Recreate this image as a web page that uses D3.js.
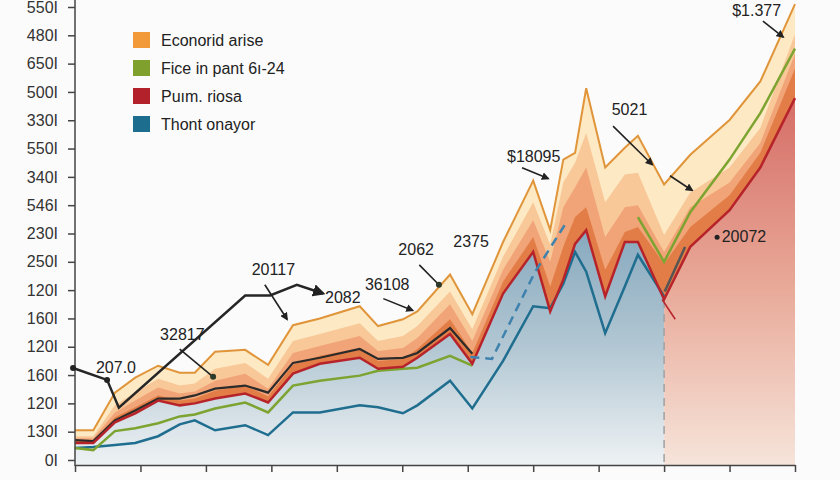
<!DOCTYPE html>
<html>
<head>
<meta charset="utf-8">
<script src="https://cdn.jsdelivr.net/npm/d3@7"></script>
<style>
  body { margin: 0; background: #fbfbfb; }
  text { font-family: "Liberation Sans", Arial, sans-serif; }
</style>
</head>
<body>
<div id="chart"></div>
<script>

// x positions of vertices (axis units, 10 per tick)
var xs = [0, 2.8, 6.1, 9.2, 12.7, 16, 18.3, 21.4, 26, 29.5, 33.3, 37.4, 43.5, 46.3, 50.1, 52.3, 57.3, 60.7, 65.4, 70, 72.6, 74.6, 76.4, 78.1, 81, 84, 86, 90, 94, 100, 104.7, 110];

// stacked band boundaries, bottom to top
var redLine  = [60, 60, 133, 165, 210, 193, 200, 217, 235, 203, 305, 340, 361, 322, 329, 361, 445, 340, 588, 735, 525, 637, 763, 812, 578, 770, 770, 567, 753, 882, 1033, 1278];
var band1Top = [70, 70, 151, 186, 228, 210, 217, 245, 263, 224, 336, 368, 396, 350, 357, 392, 497, 378, 630, 788, 613, 753, 858, 893, 672, 805, 823, 693, 823, 935, 1085, 1383];
var band2Top = [77, 77, 168, 210, 256, 235, 242, 280, 305, 252, 378, 403, 438, 385, 396, 431, 550, 420, 672, 847, 700, 893, 963, 1033, 788, 893, 900, 735, 893, 980, 1120, 1435];
var band3Top = [84, 84, 193, 238, 287, 263, 270, 322, 343, 287, 420, 445, 483, 420, 438, 473, 595, 462, 718, 910, 760, 980, 1050, 1155, 910, 1008, 1015, 795, 945, 1033, 1173, 1505];
var topLine  = [105, 105, 238, 291, 333, 308, 308, 382, 389, 336, 476, 500, 543, 473, 497, 525, 655, 515, 770, 987, 812, 1061, 1085, 1313, 1033, 1103, 1145, 973, 1078, 1201, 1337, 1610];

var blueLine  = [42, 46, 53, 60, 84, 126, 140, 105, 123, 88, 168, 168, 193, 186, 165, 193, 280, 182, 350, 543, 536, 623, 735, 665, 448, 613, 725, 578, null, null, null, null];
var greenLine = [42, 35, 102, 112, 130, 154, 161, 182, 203, 168, 263, 280, 298, 315, 322, 326, 368, 333, null, null, null, null, null, null, null, null, 858, 700, 875, 1061, 1225, 1453];
var blackLine = [70, 67, 140, 175, 217, 217, 228, 252, 263, 238, 343, 361, 392, 357, 361, 378, 466, 375, null, null, null, null, null, null, null, null, null, null, null, null, null, null];

var yTickLabels = ["0I", "130I", "120I", "160I", "120I", "160I", "120I", "250I", "230I", "546I", "340I", "550I", "330I", "500I", "650I", "480I", "550I"];

var legendNames = ["Econorid arise", "Fice in pant 6ı-24", "Puım. riosa", "Thont onayor"];
var legendColors = ["#f2993a", "#7fa02c", "#b3212a", "#1d6d8e"];

// annotation labels and pointers, data coordinates
var labels = [
  { t: "207.0", x: 3.2, y: 308 },
  { t: "32817", x: 13.0, y: 423 },
  { t: "20117", x: 27.0, y: 654 },
  { t: "2082", x: 38.2, y: 553 },
  { t: "36108", x: 44.3, y: 602 },
  { t: "2062", x: 49.4, y: 724 },
  { t: "2375", x: 57.8, y: 752 },
  { t: "$18095", x: 66.0, y: 1053 },
  { t: "5021", x: 82.0, y: 1218 },
  { t: "$1.377", x: 100.4, y: 1568 },
  { t: "20072", x: 98.8, y: 770 }
];
var pointers = [
  { x1: 16.0, y1: 392, x2: 21.1, y2: 294, dot: true },
  { x1: 29.0, y1: 619, x2: 32.4, y2: 497, dot: false },
  { x1: 47.1, y1: 570, x2: 51.6, y2: 528, dot: false },
  { x1: 52.6, y1: 689, x2: 55.6, y2: 619, dot: true },
  { x1: 68.3, y1: 1032, x2: 72.3, y2: 994, dot: false },
  { x1: 82.2, y1: 1179, x2: 88.2, y2: 1043, dot: false },
  { x1: 90.9, y1: 1004, x2: 94.3, y2: 952, dot: false },
  { x1: 105.1, y1: 1550, x2: 108.2, y2: 1494, dot: false }
];
var bigPath = [[-0.3, 325], [4.9, 283], [6.7, 185], [26.0, 581], [29.8, 581], [33.9, 619], [37.9, 588]];
var dashPath = [[60.4, 364], [63.7, 357], [70.3, 665], [74.9, 833]];

var width = 840,
    height = 480;

var svg = d3.select("#chart").append("svg")
    .attr("width", width)
    .attr("height", height);

var x = d3.scaleLinear().domain([0, 110]).range([75, 795]);
var y = d3.scaleLinear().domain([0, 1600]).range([460, 7]);

var defs = svg.append("defs");
var blueGrad = defs.append("linearGradient").attr("id", "blueGrad")
    .attr("gradientUnits", "userSpaceOnUse").attr("x1", 0).attr("y1", 230).attr("x2", 0).attr("y2", 465);
blueGrad.append("stop").attr("offset", 0).attr("stop-color", "#87a9be");
blueGrad.append("stop").attr("offset", 0.5).attr("stop-color", "#b2c7d3");
blueGrad.append("stop").attr("offset", 1).attr("stop-color", "#eef2f4");
var redGrad = defs.append("linearGradient").attr("id", "redGrad")
    .attr("gradientUnits", "userSpaceOnUse").attr("x1", 0).attr("y1", 95).attr("x2", 0).attr("y2", 465);
redGrad.append("stop").attr("offset", 0).attr("stop-color", "#d56c66");
redGrad.append("stop").attr("offset", 0.5).attr("stop-color", "#e8a796");
redGrad.append("stop").attr("offset", 1).attr("stop-color", "#f6e4da");
defs.append("marker").attr("id", "arrow")
    .attr("viewBox", "0 0 10 10").attr("refX", 8).attr("refY", 5)
    .attr("markerWidth", 5).attr("markerHeight", 5).attr("orient", "auto")
  .append("path").attr("d", "M0,0L10,5L0,10z").attr("fill", "#222");

var rows = xs.map(function(d, i) {
  return { x: d, r: redLine[i], b1: band1Top[i], b2: band2Top[i], b3: band3Top[i], t: topLine[i],
           blue: blueLine[i], green: greenLine[i], black: blackLine[i] };
});

var under = d3.area()
    .x(function(d) { return x(d.x); })
    .y0(465)
    .y1(function(d) { return y(d.r); });

svg.append("path").datum(rows.filter(function(d) { return d.x <= 90; }))
    .attr("d", under).attr("fill", "url(#blueGrad)");
svg.append("path").datum(rows.filter(function(d) { return d.x >= 90; }))
    .attr("d", under).attr("fill", "url(#redGrad)");

// orange bands
var bands = [
  { lo: "r", hi: "t", color: "#fde9c4" },
  { lo: "r", hi: "b3", color: "#f8c898" },
  { lo: "r", hi: "b2", color: "#f1a477" },
  { lo: "r", hi: "b1", color: "#e27d47" }
];
bands.forEach(function(b) {
  svg.append("path").datum(rows)
      .attr("fill", b.color)
      .attr("d", d3.area()
        .x(function(d) { return x(d.x); })
        .y0(function(d) { return y(d[b.lo]); })
        .y1(function(d) { return y(d[b.hi]); }));
});

svg.append("line")
    .attr("x1", x(90)).attr("x2", x(90))
    .attr("y1", 300).attr("y2", 465)
    .attr("stroke", "#a0a0a0").attr("stroke-width", 1.5).attr("stroke-dasharray", "8,6");

function lineOf(key) {
  return d3.line()
    .defined(function(d) { return d[key] != null; })
    .x(function(d) { return x(d.x); })
    .y(function(d) { return y(d[key]); });
}

svg.append("path").datum(rows).attr("d", lineOf("t"))
    .attr("fill", "none").attr("stroke", "#e0953a").attr("stroke-width", 2);
svg.append("path").datum(rows).attr("d", lineOf("blue"))
    .attr("fill", "none").attr("stroke", "#1f6e8f").attr("stroke-width", 2.5);
svg.append("path").datum(rows).attr("d", lineOf("green"))
    .attr("fill", "none").attr("stroke", "#7da331").attr("stroke-width", 2.5);
svg.append("path").datum(rows).attr("d", lineOf("black"))
    .attr("fill", "none").attr("stroke", "#2b2b2b").attr("stroke-width", 2.2);
svg.append("path").datum(rows).attr("d", lineOf("r"))
    .attr("fill", "none").attr("stroke", "#b7232a").attr("stroke-width", 2.5);

// dashed blue trace
svg.append("path").datum(dashPath)
    .attr("d", d3.line().x(function(d) { return x(d[0]); }).y(function(d) { return y(d[1]); }))
    .attr("fill", "none").attr("stroke", "#3f82ad").attr("stroke-width", 2.5)
    .attr("stroke-dasharray", "9,6");

svg.append("path").datum([[90.1, 595], [93.2, 752]])
    .attr("d", d3.line().x(function(d) { return x(d[0]); }).y(function(d) { return y(d[1]); }))
    .attr("stroke", "#555").attr("stroke-width", 2.5);
svg.append("path").datum([[89.7, 567], [91.7, 497]])
    .attr("d", d3.line().x(function(d) { return x(d[0]); }).y(function(d) { return y(d[1]); }))
    .attr("fill", "none").attr("stroke", "#b7232a").attr("stroke-width", 1.5);

// axes
svg.append("g")
    .attr("transform", "translate(" + x(0) + ",0)")
    .call(d3.axisLeft(y)
      .tickValues(d3.range(0, 1601, 100))
      .tickFormat(function(d, i) { return yTickLabels[i]; })
      .tickSize(7).tickPadding(10).tickSizeOuter(0))
    .call(function(g) {
      g.select(".domain").remove();
      g.selectAll("line").attr("stroke", "#444").attr("stroke-width", 1.5);
      g.selectAll("text").attr("fill", "#333").style("font-size", "16px")
        .style("font-family", "'Liberation Sans', Arial, sans-serif");
    });
svg.append("line")
    .attr("x1", x(0)).attr("x2", x(0)).attr("y1", 0).attr("y2", 466)
    .attr("stroke", "#444").attr("stroke-width", 1.5);

svg.append("g")
    .attr("transform", "translate(0,465)")
    .call(d3.axisBottom(x).tickValues(d3.range(0, 111, 10)).tickFormat("").tickSize(7).tickSizeOuter(0))
    .call(function(g) {
      g.select(".domain").attr("stroke", "#444").attr("stroke-width", 1.5);
      g.selectAll("line").attr("stroke", "#444").attr("stroke-width", 1.5);
    });

// annotations
svg.append("path").datum(bigPath)
    .attr("d", d3.line().x(function(d) { return x(d[0]); }).y(function(d) { return y(d[1]); }))
    .attr("fill", "none").attr("stroke", "#262626").attr("stroke-width", 2.5)
    .attr("marker-end", "url(#arrow)");
svg.selectAll(".bigdot").data(bigPath.slice(0, 2)).enter().append("circle")
    .attr("cx", function(d) { return x(d[0]); })
    .attr("cy", function(d) { return y(d[1]); })
    .attr("r", 3).attr("fill", "#222");

svg.selectAll(".pointer").data(pointers).enter().append("line")
    .attr("x1", function(d) { return x(d.x1); })
    .attr("y1", function(d) { return y(d.y1); })
    .attr("x2", function(d) { return x(d.x2); })
    .attr("y2", function(d) { return y(d.y2); })
    .attr("stroke", "#222").attr("stroke-width", 1.6)
    .attr("marker-end", function(d) { return d.dot ? null : "url(#arrow)"; });
svg.selectAll(".pdot").data(pointers.filter(function(d) { return d.dot; })).enter().append("circle")
    .attr("cx", function(d) { return x(d.x2); })
    .attr("cy", function(d) { return y(d.y2); })
    .attr("r", 3).attr("fill", "#2d3a2a");

svg.append("circle").attr("cx", x(98.1)).attr("cy", y(787)).attr("r", 2.5).attr("fill", "#222");

svg.selectAll(".note").data(labels).enter().append("text")
    .attr("x", function(d) { return x(d.x); })
    .attr("y", function(d) { return y(d.y); })
    .attr("fill", "#222")
    .style("font-size", "16px")
    .text(function(d) { return d.t; });

// legend
var legend = svg.selectAll(".legend").data(legendNames).enter().append("g")
    .attr("transform", function(d, i) { return "translate(133," + (32 + i * 28) + ")"; });
legend.append("rect")
    .attr("width", 17).attr("height", 16)
    .attr("fill", function(d, i) { return legendColors[i]; });
legend.append("text")
    .attr("x", 28).attr("y", 14)
    .attr("fill", "#222")
    .style("font-size", "16px")
    .text(function(d) { return d; });

</script>
</body>
</html>
